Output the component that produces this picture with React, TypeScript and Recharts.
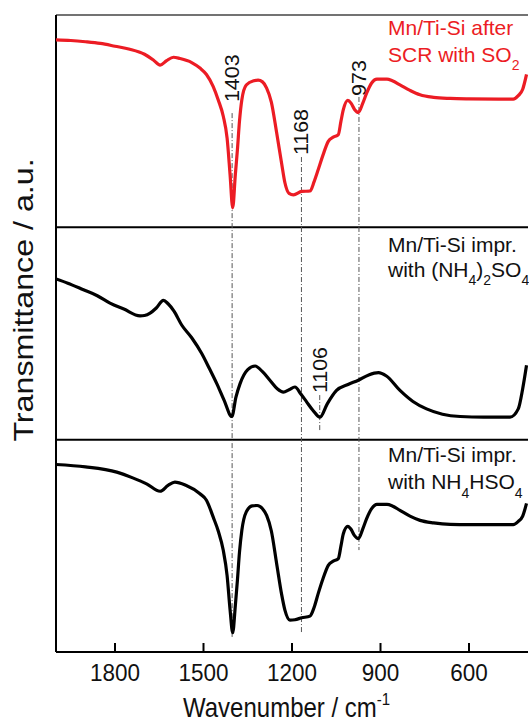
import { Line, LineChart, ReferenceLine, XAxis, YAxis } from "recharts";

// wavenumber (cm-1) and relative transmittance inside each panel (0 = panel bottom, 1 = panel top)
const scrWn = [
  2000, 1950, 1900, 1850, 1800, 1750, 1700, 1670, 1647, 1625, 1602, 1580, 1540, 1512, 1490, 1467, 1450,
  1433, 1420, 1410, 1401, 1392, 1385, 1378, 1370, 1355, 1330, 1315, 1300, 1286, 1270, 1252, 1235, 1224,
  1210, 1195, 1167, 1139, 1125, 1111, 1095, 1077, 1060, 1043, 1034, 1026, 1011, 1000, 988, 975, 960, 947,
  930, 912, 878, 860, 834, 800, 766, 720, 664, 600, 500, 450, 433, 418, 405,
];
const scrT = [
  0.883, 0.88, 0.874, 0.866, 0.853, 0.839, 0.815, 0.788, 0.764, 0.785, 0.801, 0.795, 0.776, 0.75, 0.72,
  0.663, 0.6, 0.523, 0.42, 0.25, 0.092, 0.25, 0.366, 0.5, 0.601, 0.67, 0.69, 0.693, 0.685, 0.656, 0.59,
  0.445, 0.3, 0.21, 0.16, 0.153, 0.169, 0.171, 0.215, 0.272, 0.34, 0.405, 0.425, 0.437, 0.5, 0.554, 0.598,
  0.585, 0.555, 0.541, 0.585, 0.632, 0.68, 0.698, 0.698, 0.69, 0.671, 0.645, 0.624, 0.612, 0.607, 0.605,
  0.604, 0.604, 0.62, 0.65, 0.72,
];

const amsWn = [
  2000, 1960, 1907, 1860, 1817, 1770, 1715, 1700, 1681, 1660, 1636, 1620, 1600, 1574, 1540, 1506, 1480,
  1455, 1430, 1404, 1390, 1376, 1350, 1325, 1300, 1275, 1250, 1229, 1210, 1190, 1170, 1150, 1130, 1105,
  1080, 1049, 1010, 975, 940, 907, 880, 834, 790, 744, 690, 630, 550, 461, 433, 418, 405,
];
const amsT = [
  0.757, 0.737, 0.706, 0.678, 0.643, 0.615, 0.583, 0.585, 0.596, 0.62, 0.656, 0.64, 0.605, 0.54, 0.48,
  0.406, 0.335, 0.264, 0.185, 0.109, 0.2, 0.264, 0.33, 0.347, 0.32, 0.28, 0.24, 0.224, 0.235, 0.248, 0.215,
  0.177, 0.14, 0.106, 0.17, 0.232, 0.26, 0.28, 0.305, 0.316, 0.3, 0.232, 0.18, 0.145, 0.12, 0.109, 0.106,
  0.106, 0.145, 0.24, 0.35,
];

const abWn = [
  2000, 1900, 1794, 1740, 1693, 1647, 1620, 1597, 1560, 1512, 1490, 1467, 1450, 1433, 1420, 1410, 1401,
  1392, 1385, 1378, 1370, 1355, 1335, 1318, 1300, 1286, 1270, 1252, 1235, 1224, 1207, 1190, 1167, 1139,
  1125, 1111, 1095, 1077, 1060, 1043, 1034, 1026, 1011, 1000, 988, 975, 960, 947, 930, 912, 878, 860, 834,
  800, 766, 720, 664, 600, 500, 450, 433, 418, 405,
];
const abT = [
  0.883, 0.872, 0.847, 0.82, 0.792, 0.757, 0.785, 0.8, 0.785, 0.745, 0.715, 0.635, 0.57, 0.479, 0.36, 0.2,
  0.091, 0.22, 0.338, 0.47, 0.573, 0.66, 0.688, 0.69, 0.675, 0.643, 0.57, 0.416, 0.27, 0.197, 0.15, 0.152,
  0.161, 0.169, 0.21, 0.276, 0.345, 0.408, 0.428, 0.44, 0.5, 0.557, 0.592, 0.578, 0.548, 0.534, 0.58,
  0.628, 0.675, 0.695, 0.695, 0.688, 0.667, 0.64, 0.62, 0.608, 0.601, 0.6, 0.6, 0.6, 0.615, 0.64, 0.7,
];

const xTicks = [1800, 1500, 1200, 900, 600];

// marked bands: wavenumber, dashed-line span (in stacked y units), label gap
const peaks = [
  { wn: 1403, top: 2.538, bottom: 0.071, gap: 11 },
  { wn: 1168, top: 2.331, bottom: 0.094, gap: 2 },
  { wn: 973, top: 2.614, bottom: 0.48, gap: 1 },
  { wn: 1106, top: 1.21, bottom: 1.036, gap: 2 },
];

const FONT = "'Liberation Sans', Arial, sans-serif";
const RED = "#ec1c24";

const stack = (wn: number[], t: number[], offset: number) =>
  wn.map((w, i) => ({ wn: w, y: t[i] + offset }));

const scrData = stack(scrWn, scrT, 2);
const amsData = stack(amsWn, amsT, 1);
const abData = stack(abWn, abT, 0);

function Tick({ x, y, payload }: any) {
  return (
    <g>
      <line x1={x} x2={x} y1={y} y2={y - 9} stroke="#000" strokeWidth={2} />
      <text
        transform={`translate(${x},${y + 29}) scale(1,1.08)`}
        textAnchor="middle"
        fontSize={22.5}
        fontFamily={FONT}
        fill="#111"
      >
        {payload.value}
      </text>
    </g>
  );
}

function PeakLabel({ viewBox, text, gap }: any) {
  if (!viewBox) return null;
  const x = viewBox.x + 7;
  const y = viewBox.y - gap;
  return (
    <text
      transform={`translate(${x},${y}) scale(1,1.1) rotate(-90)`}
      textAnchor="start"
      fontSize={19.5}
      fontFamily={FONT}
      fill="#111"
    >
      {text}
    </text>
  );
}

export default function App() {
  return (
    <div
      style={{
        position: "fixed",
        left: 0,
        top: 0,
        width: 529,
        height: 722,
        overflow: "hidden",
        background: "#fff",
      }}
    >
      <LineChart width={529} height={722} margin={{ top: 15, right: 1, bottom: 0, left: 56 }}>
        <XAxis
          type="number"
          dataKey="wn"
          domain={[400, 2000]}
          reversed
          allowDataOverflow
          ticks={xTicks}
          tickSize={0}
          tickMargin={0}
          tickLine={false}
          tick={<Tick />}
          height={70}
          axisLine={{ stroke: "#000", strokeWidth: 2 }}
        />
        <YAxis type="number" domain={[0, 3]} hide allowDataOverflow />
        <ReferenceLine y={3} stroke="#444" strokeWidth={1.5} />
        <ReferenceLine y={2} stroke="#000" strokeWidth={2} />
        <ReferenceLine y={1} stroke="#000" strokeWidth={2} />
        <ReferenceLine x={2000} stroke="#000" strokeWidth={2} />
        {peaks.map((p) => (
          <ReferenceLine
            key={p.wn}
            segment={[
              { x: p.wn, y: p.top },
              { x: p.wn, y: p.bottom },
            ]}
            stroke="#555"
            strokeWidth={1}
            strokeDasharray="5 2 1 2"
            label={<PeakLabel text={String(p.wn)} gap={p.gap} />}
          />
        ))}
        <Line
          data={scrData}
          dataKey="y"
          type="monotone"
          stroke={RED}
          strokeWidth={3.2}
          dot={false}
          isAnimationActive={false}
        />
        <Line
          data={amsData}
          dataKey="y"
          type="monotone"
          stroke="#000"
          strokeWidth={3.2}
          dot={false}
          isAnimationActive={false}
        />
        <Line
          data={abData}
          dataKey="y"
          type="monotone"
          stroke="#000"
          strokeWidth={3.2}
          dot={false}
          isAnimationActive={false}
        />
      </LineChart>
      <svg
        width={529}
        height={722}
        style={{ position: "absolute", left: 0, top: 0, pointerEvents: "none" }}
        fontFamily={FONT}
      >
        <g fontSize={21} fill={RED}>
          <text x={388} y={35}>Mn/Ti-Si after</text>
          <text x={388} y={61.5}>
            SCR with SO<tspan fontSize={14} dy={8}>2</tspan>
          </text>
        </g>
        <g fontSize={21} fill="#111">
          <text x={388} y={251.5}>Mn/Ti-Si impr.</text>
          <text x={388} y={277}>
            with (NH<tspan fontSize={14} dy={8}>4</tspan>
            <tspan dy={-8}>)</tspan>
            <tspan fontSize={14} dy={8}>2</tspan>
            <tspan dy={-8}>SO</tspan>
            <tspan fontSize={14} dy={8}>4</tspan>
          </text>
          <text x={388} y={462}>Mn/Ti-Si impr.</text>
          <text x={388} y={489}>
            with NH<tspan fontSize={14} dy={9}>4</tspan>
            <tspan dy={-9}>HSO</tspan>
            <tspan fontSize={14} dy={9}>4</tspan>
          </text>
        </g>
        <text transform="translate(183,716.5) scale(1,1.15)" fontSize={24} fill="#111">
          Wavenumber / cm<tspan fontSize={15} dy={-10}>-1</tspan>
        </text>
        <text
          transform="translate(33,300) scale(1,1.15) rotate(-90)"
          textAnchor="middle"
          fontSize={28}
          fill="#111"
        >
          Transmittance / a.u.
        </text>
      </svg>
    </div>
  );
}
